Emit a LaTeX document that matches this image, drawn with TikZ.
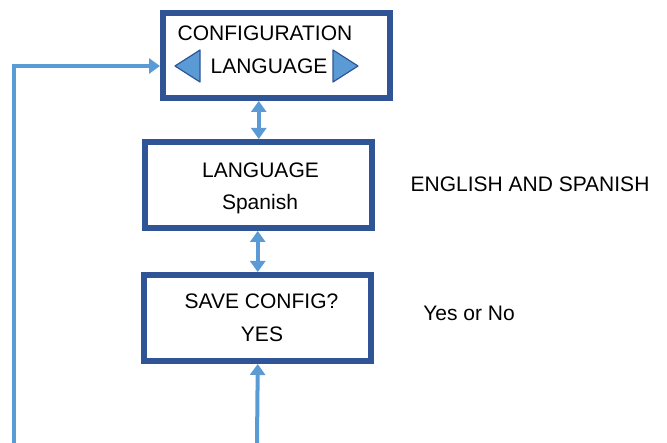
\documentclass[tikz,border=0pt]{standalone}
\usepackage{fontspec}
\setmainfont{Liberation Sans}
\usetikzlibrary{arrows.meta}
\definecolor{boxblue}{HTML}{2F5597}
\definecolor{linkblue}{HTML}{5B9BD5}

\begin{document}
\begin{tikzpicture}[x=1pt,y=-1pt,>={Triangle[width=15pt,length=11pt]},
 font=\fontsize{21}{25}\selectfont,
 panel/.style={draw=boxblue,line width=6pt,minimum width=227pt,minimum height=86pt,inner sep=0pt},
 txt/.style={anchor=base,inner sep=0pt},
 link/.style={draw=linkblue,line width=4pt},
 arr/.style={fill=linkblue,draw=boxblue,line width=1.2pt,line join=round}]
\useasboundingbox (0,0) rectangle (667,443);
% menu screens
\node[panel,minimum height=85pt] (cfg) at (276.5,55.5) {};
\node[panel] (lang) at (258.75,185) {};
\node[panel] (save) at (257.75,318) {};
% screen texts
\node[txt] (cfgtitle) at (265,41) {CONFIGURATION};
\node[txt] (cfgitem) at (269,74) {LANGUAGE};
\draw[arr] (200,50) -- (175,66) -- (200,82) -- cycle;
\draw[arr] (333,50) -- (358,66) -- (333,82) -- cycle;
\node[txt] (langtitle) at (260.5,178) {LANGUAGE};
\node[txt] (langval) at (260,210) {Spanish};
\node[txt] (savetitle) at (261.5,309) {SAVE CONFIG?};
\node[txt] (saveval) at (262,342) {YES};
% notes
\node[txt] (langnote) at (530,191.7) {ENGLISH AND SPANISH};
\node[txt] (savenote) at (469,321) {Yes or No};
% connectors
\coordinate (feed) at (257,443);
\coordinate (back) at (14,443);
\draw[link,<->] (lang.north |- cfg.south) -- (lang.north);
\draw[link,<->] (save.north |- lang.south) -- (save.north);
\draw[link,->] (feed) -- (save.south);
\draw[link,->] (back) |- ([yshift=-10.5pt]cfg.west);
\end{tikzpicture}
\end{document}
